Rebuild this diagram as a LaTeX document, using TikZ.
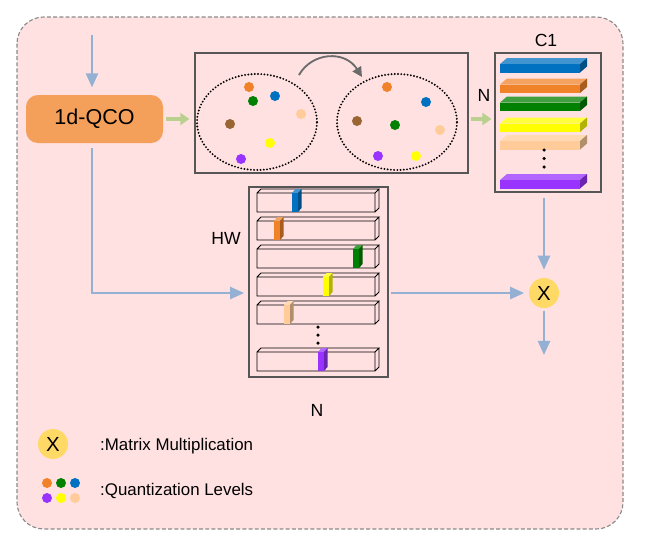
\documentclass[tikz,border=0pt]{standalone}
\usepackage{fontspec}
\setmainfont{Liberation Sans}
\usetikzlibrary{arrows.meta, positioning, shapes.geometric, calc}
\definecolor{cpink}{HTML}{FFE1E1}
\definecolor{cframe}{HTML}{8A8A8A}
\definecolor{cline}{HTML}{94B0D2}
\definecolor{cleaf}{HTML}{B9D08E}
\definecolor{cqco}{HTML}{F5A05A}
\definecolor{cgold}{HTML}{FFD966}
\definecolor{cgrey}{HTML}{6B6B6B}
\definecolor{qblue}{HTML}{0070C0}
\definecolor{qorange}{HTML}{F0832A}
\definecolor{qgreen}{HTML}{008000}
\definecolor{qyellow}{HTML}{FFFF00}
\definecolor{qpeach}{HTML}{FFCC99}
\definecolor{qpurple}{HTML}{9933FF}
\definecolor{qbrown}{HTML}{996633}
\newcommand\pix{0.025cm}
% 3d slab in C1: front top y, colour
\newcommand\slab[2]{%
  \fill[#2!75!white] (500,#1) -- ++(7,-6) -- ++(80,0) -- ++(-7,6) -- cycle;
  \fill[#2] (500,#1) rectangle ++(80,8.5);
  \fill[#2!70!black] (580,#1) -- ++(7,-6) -- ++(0,8.5) -- ++(-7,6) -- cycle;}
% 3d row in HW: front top y, block x, colour
\newcommand\hwrow[3]{%
  \draw[line width=0.6pt] (257,#1) rectangle ++(118,19)
    (257,#1) -- ++(4,-4) -- ++(118,0) -- ++(-4,4)
    (379,#1-4) -- ++(0,19) -- ++(-4,4);
  \fill[#3!75!white] (#2,#1) -- ++(3.5,-4) -- ++(6,0) -- ++(-3.5,4) -- cycle;
  \fill[#3] (#2,#1) rectangle ++(6,19);
  \fill[#3!70!black] (#2+6,#1) -- ++(3.5,-4) -- ++(0,19) -- ++(-3.5,4) -- cycle;}
\tikzset{
  every picture/.style={x=\pix, y=-\pix, line width=0.8pt},
  panel/.style={draw=cgrey!80!black, line width=0.9pt, inner sep=0pt},
  qcobox/.style={fill=cqco, rounded corners=8.5pt, minimum width=137*\pix, minimum height=48*\pix, font=\fontsize{15.3}{18}\selectfont},
  cluster/.style={ellipse, draw, line width=1.5pt, line cap=round, dash pattern=on 0pt off 2.3pt, minimum width=120*\pix, minimum height=96*\pix},
  qdot/.style={circle, fill=#1, inner sep=0pt, minimum size=10*\pix},
  mulnode/.style={circle, fill=cgold, inner sep=0pt, minimum size=30*\pix, font=\fontsize{14.5}{16}\selectfont},
  arrow/.style={-{Triangle[length=10pt, width=8.5pt]}, draw=cline, line width=1.8pt},
  feed/.style={-{Triangle[length=6.5pt, width=8.5pt]}, draw=cleaf, line width=3.2pt},
  arcarrow/.style={-{Triangle[length=7pt, width=7pt]}, draw=cgrey, line width=1.3pt},
  lbl/.style={font=\fontsize{12.5}{15}\selectfont},
  legend/.style={font=\fontsize{12}{14}\selectfont, anchor=west},
}

\begin{document}
\begin{tikzpicture}
  \useasboundingbox (0,0) rectangle (646,540);
  \draw[cframe, fill=cpink, dash pattern=on 2.8pt off 1.6pt, rounded corners=19pt] (17,17) rectangle (623,529);

  \node[qcobox] (qco) at (94.5,119) {1d-QCO};
  \coordinate (in) at (92,35);
  \draw[arrow, shorten >=5pt] (in) -- (qco.north -| in);

  % clustering panel
  \node[panel, minimum width=273*\pix, minimum height=120*\pix] (clus) at (331.5,113) {};
  \node[cluster] (before) at (257,122) {};
  \node[cluster] (after) at (397,122) {};
  \foreach \col/\x/\y [count=\i] in {qorange/249/87, qblue/275/96, qgreen/253/101, qpeach/301/114, qbrown/230/124, qyellow/270/143, qpurple/241/159}
    \node[qdot=\col] (b\i) at (\x,\y) {};
  \foreach \col/\x/\y [count=\i] in {qorange/387/87, qblue/426/102, qbrown/357/121, qgreen/395/125, qpeach/440/130, qpurple/378/156, qyellow/416/156}
    \node[qdot=\col] (a\i) at (\x,\y) {};
  \coordinate (arcA) at (299,75);
  \coordinate (arcB) at (362,77);
  \draw[arcarrow] (arcA) .. controls (312,52) and (345,50) .. (arcB);

  % C1 panel
  \node[panel, minimum width=106*\pix, minimum height=139*\pix] (c1box) at (548,122.5) {};
  \node[lbl] (c1lbl) at (546,40) {C1};
  \node[lbl] (nlbl) at (484,95) {N};
  \slab{64}{qblue}
  \slab{84.5}{qorange}
  \slab{102.5}{qgreen}
  \slab{123.5}{qyellow}
  \slab{141}{qpeach}
  \slab{180}{qpurple}
  \foreach \y [count=\i] in {150,158.5,167}
    \node[circle, fill=black, inner sep=0pt, minimum size=3.5*\pix] (cd\i) at (544,\y) {};

  \draw[feed, shorten <=2pt, shorten >=3.5pt] (qco.east) -- (qco.east -| clus.west);
  \draw[feed, shorten <=1.5pt, shorten >=2pt] (clus.east |- qco) -- (c1box.west |- qco);

  % HW panel
  \node[panel, minimum width=139*\pix, minimum height=190*\pix] (hwbox) at (318.5,282) {};
  \node[lbl] (hwlbl) at (226,238) {HW};
  \node[lbl] (nlbl2) at (317,410) {N};
  \hwrow{193}{292}{qblue}
  \hwrow{221}{274}{qorange}
  \hwrow{249}{353}{qgreen}
  \hwrow{277}{323}{qyellow}
  \hwrow{305}{284}{qpeach}
  \hwrow{352}{318}{qpurple}
  \foreach \y [count=\i] in {327,335,343}
    \node[circle, fill=black, inner sep=0pt, minimum size=3.5*\pix] (hd\i) at (318,\y) {};

  % multiplication
  \node[mulnode] (mul) at (544,293) {X};
  \coordinate (out) at (544,355);
  \draw[arrow, shorten <=3.5pt] (qco.south -| in) |- ([xshift=-3pt]hwbox.west |- mul);
  \draw[arrow, shorten <=2pt, shorten >=3pt] (hwbox.east |- mul) -- (mul);
  \draw[arrow, shorten <=3.5pt, shorten >=5.5pt] (c1box.south -| mul) -- (mul);
  \draw[arrow, shorten <=1.5pt] (mul) -- (out);

  % legend
  \node[mulnode] (legmul) at (53,444) {X};
  \node[legend] (legmultxt) at (95,446) {:Matrix Multiplication};
  \foreach \col/\x/\y [count=\i] in {qorange/47/483, qgreen/61/483, qblue/75/483, qpurple/47/498, qyellow/61/498, qpeach/75/498}
    \node[qdot=\col] (lq\i) at (\x,\y) {};
  \node[legend] (legqtxt) at (95,491) {:Quantization Levels};
\end{tikzpicture}
\end{document}
